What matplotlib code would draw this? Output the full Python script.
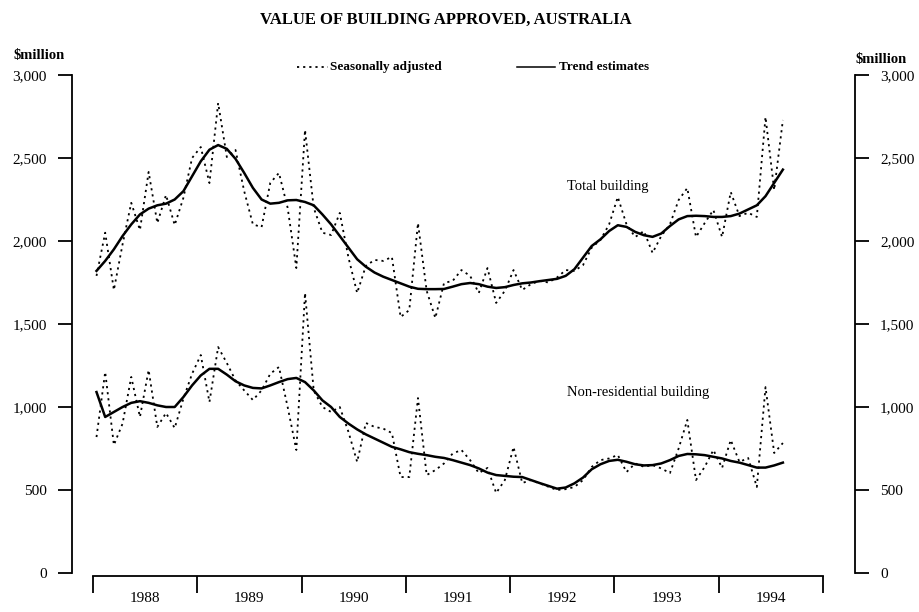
import numpy as np
import matplotlib.pyplot as plt

plt.rcParams['font.family'] = ['Liberation Serif', 'DejaVu Serif']

# Monthly data, Jan 1988 onwards ($million)
total_sa = [1790, 2050, 1705, 1980, 2230, 2066, 2416, 2108, 2277, 2096,
            2260, 2500, 2566, 2349, 2831, 2506, 2548, 2300, 2100, 2084,
            2350, 2410, 2200, 1837, 2669, 2200, 2050, 2036, 2169, 1900,
            1687, 1850, 1886, 1880, 1904, 1542, 1584, 2108, 1700, 1536,
            1747, 1760, 1825, 1790, 1687, 1837, 1627, 1700, 1825, 1705,
            1740, 1760, 1750, 1780, 1825, 1820, 1855, 1960, 2006, 2100,
            2265, 2100, 2024, 2060, 1928, 2030, 2100, 2247, 2319, 2024,
            2108, 2187, 2024, 2295, 2150, 2170, 2145, 2747, 2307, 2729]
total_trend = [1820, 1880, 1950, 2030, 2100, 2160, 2195, 2215, 2225, 2250,
               2300, 2390, 2480, 2550, 2578, 2555, 2495, 2410, 2320, 2250,
               2225, 2230, 2245, 2247, 2235, 2215, 2160, 2100, 2030, 1960,
               1890, 1845, 1810, 1785, 1765, 1745, 1725, 1712, 1710, 1710,
               1711, 1725, 1740, 1747, 1740, 1725, 1717, 1722, 1735, 1745,
               1750, 1758, 1765, 1772, 1790, 1830, 1900, 1970, 2010, 2060,
               2095, 2085, 2055, 2035, 2025, 2045, 2090, 2130, 2150, 2152,
               2150, 2145, 2145, 2150, 2165, 2190, 2215, 2270, 2350, 2430]
nonres_sa = [819, 1211, 771, 900, 1181, 940, 1223, 880, 964, 873,
             1050, 1200, 1313, 1030, 1361, 1265, 1160, 1100, 1042, 1100,
             1200, 1241, 1000, 741, 1687, 1100, 1000, 970, 1000, 850,
             669, 904, 880, 870, 843, 578, 578, 1054, 590, 620,
             660, 720, 741, 680, 602, 633, 482, 560, 759, 542,
             560, 540, 520, 500, 505, 518, 560, 639, 680, 690,
             711, 608, 660, 640, 650, 630, 602, 750, 922, 560,
             639, 741, 633, 801, 669, 693, 518, 1120, 723, 783]
nonres_trend = [1090, 940, 970, 1000, 1025, 1035, 1025, 1010, 1000, 1000,
                1060, 1130, 1190, 1230, 1230, 1195, 1155, 1130, 1115, 1112,
                1130, 1150, 1168, 1175, 1150, 1100, 1040, 1000, 940, 900,
                865, 835, 810, 785, 760, 745, 728, 718, 710, 700,
                693, 680, 665, 650, 630, 605, 590, 585, 580, 578,
                560, 542, 525, 508, 515, 540, 575, 625, 655, 675,
                682, 670, 655, 648, 650, 660, 680, 705, 717, 715,
                710, 700, 690, 675, 665, 650, 635, 635, 648, 665]
years = ['1988', '1989', '1990', '1991', '1992', '1993', '1994']
y_ticks = [0, 500, 1000, 1500, 2000, 2500, 3000]

months = np.arange(len(total_sa)) + 0.4

fig = plt.figure(figsize=(9.19, 6.12), dpi=100)
ax = fig.add_axes([72 / 919, 39 / 612, 783 / 919, 498 / 612])

dots = (0, (1.2, 2.2))
ax.plot(months, total_sa, color='black', lw=1.3, ls=dots)
ax.plot(months, total_trend, color='black', lw=1.8)
ax.plot(months, nonres_sa, color='black', lw=1.3, ls=dots)
ax.plot(months, nonres_trend, color='black', lw=1.8)

ax.set_xlim(-2.42, 87.7)
ax.set_ylim(0, 3000)

ax.spines['top'].set_visible(False)
for s in ['left', 'right', 'bottom']:
    ax.spines[s].set_linewidth(1.3)
ax.spines['bottom'].set_bounds(0, 12 * len(years))
ax.spines['bottom'].set_position(('outward', 2))

ax.set_yticks(y_ticks)
ax.set_yticklabels([f'{v:,}' for v in y_ticks])
ax.tick_params(axis='y', which='major', left=True, right=True,
               labelleft=True, labelright=True, length=10, width=1.3,
               labelsize=11, pad=8)

ax.set_xticks(np.arange(0, 12 * len(years) + 1, 12))
ax.set_xticklabels([])
ax.set_xticks(np.arange(6, 12 * len(years), 12), minor=True)
ax.set_xticklabels(years, minor=True)
ax.tick_params(axis='x', which='major', length=12, width=1.3)
ax.tick_params(axis='x', which='minor', length=0, labelsize=11, pad=12)

fig.text(13 / 919, 1 - 55 / 612, '$million', fontsize=10.5, fontweight='bold',
         ha='left', va='center')
fig.text(855 / 919, 1 - 60 / 612, '$million', fontsize=10.5, fontweight='bold',
         ha='left', va='center')

fig.suptitle('VALUE OF BUILDING APPROVED, AUSTRALIA', x=446 / 919,
             y=1 - 20 / 612, fontsize=12, fontweight='bold', va='center')

# legend drawn as a line of text above the plot
ly = 3050
ax.plot([23.5, 27.0], [ly, ly], color='black', lw=1.3, ls=dots, clip_on=False)
ax.text(27.3, ly, 'Seasonally adjusted', fontsize=9.5, fontweight='bold',
        va='center', ha='left')
ax.plot([48.8, 53.2], [ly, ly], color='black', lw=1.1, clip_on=False)
ax.text(53.6, ly, 'Trend estimates', fontsize=9.5, fontweight='bold',
        va='center', ha='left')

ax.text(54.6, 2330, 'Total building', fontsize=10.5, ha='left', va='center')
ax.text(54.6, 1090, 'Non-residential building', fontsize=10.5, ha='left',
        va='center')

fig.savefig('out.png', dpi=100)
